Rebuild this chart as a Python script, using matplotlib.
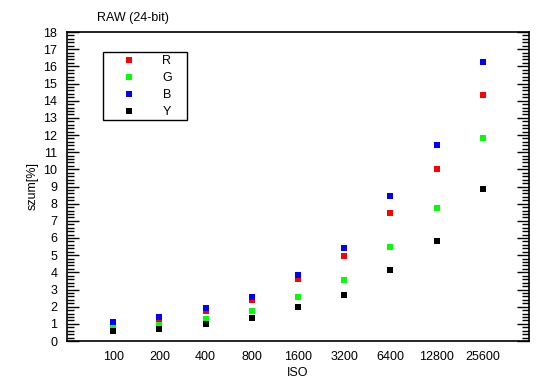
import matplotlib
matplotlib.use("Agg")
import matplotlib.pyplot as plt
import matplotlib.ticker as ticker
from matplotlib.patches import Rectangle

plt.rcParams['font.family'] = ['Liberation Sans', 'DejaVu Sans']

iso = ['100', '200', '400', '800', '1600', '3200', '6400', '12800', '25600']
r_vals = [0.91, 1.18, 1.73, 2.39, 3.59, 4.93, 7.44, 10.0, 14.31]
g_vals = [0.80, 0.95, 1.26, 1.73, 2.55, 3.53, 5.46, 7.73, 11.8]
b_vals = [1.10, 1.38, 1.90, 2.58, 3.83, 5.40, 8.43, 11.4, 16.23]
y_vals = [0.56, 0.68, 0.97, 1.32, 1.96, 2.66, 4.12, 5.81, 8.83]

series = [('R', r_vals, '#ff0000'), ('G', g_vals, '#00ff00'),
          ('B', b_vals, '#0000ff'), ('Y', y_vals, '#000000')]

W, H = 550, 389
fig = plt.figure(figsize=(W / 100, H / 100), dpi=100)
# axes box in pixels: left 67, right 529, top 32, bottom 341
ax = fig.add_axes([67/W, 1 - 341/H, 462/W, 309/H])

xpos = list(range(1, len(iso) + 1))
for name, vals, col in series:
    ax.plot(xpos, vals, linestyle='none', marker='s', markersize=3.8,
            color=col, markeredgewidth=0)

ax.set_xlim(0, 10)
ax.set_ylim(0, 18)
ax.set_xticks(xpos)
ax.set_xticklabels(iso)
ax.tick_params(axis='x', length=0, labelsize=9, pad=7)
ax.yaxis.set_major_locator(ticker.MultipleLocator(1))
ax.yaxis.set_minor_locator(ticker.MultipleLocator(0.2))
ax.tick_params(axis='y', which='major', direction='in', length=8.6, width=1,
               right=True, labelsize=9, pad=7)
ax.tick_params(axis='y', which='minor', direction='in', length=5, width=1,
               right=True)
for s in ax.spines.values():
    s.set_linewidth(1.2)

ax.set_xlabel('ISO', fontsize=9, labelpad=3)
ax.set_ylabel('szum[%]', fontsize=9, labelpad=3)
fig.text(97/W, 1 - 18/H, 'RAW (24-bit)', fontsize=9, va='center', ha='left')

# legend drawn by hand to match the boxed layout
def px(x, y):
    return (x - 67) / 462, (341 - y) / 309

x0, y0 = px(103, 120)
x1, y1 = px(187, 52)
ax.add_patch(Rectangle((x0, y0), x1 - x0, y1 - y0, transform=ax.transAxes,
                       fill=False, edgecolor='black', linewidth=1, zorder=5))
for i, (name, vals, col) in enumerate(series):
    mx, my = px(129.3, 60.3 + 17 * i)
    tx, ty = px(166.7, 60.8 + 17 * i)
    ax.plot([mx], [my], transform=ax.transAxes, linestyle='none', marker='s',
            markersize=3.8, color=col, markeredgewidth=0, clip_on=False)
    ax.text(tx, ty, name, transform=ax.transAxes, fontsize=9,
            ha='center', va='center')

fig.savefig('out.png', dpi=100, facecolor='white')
